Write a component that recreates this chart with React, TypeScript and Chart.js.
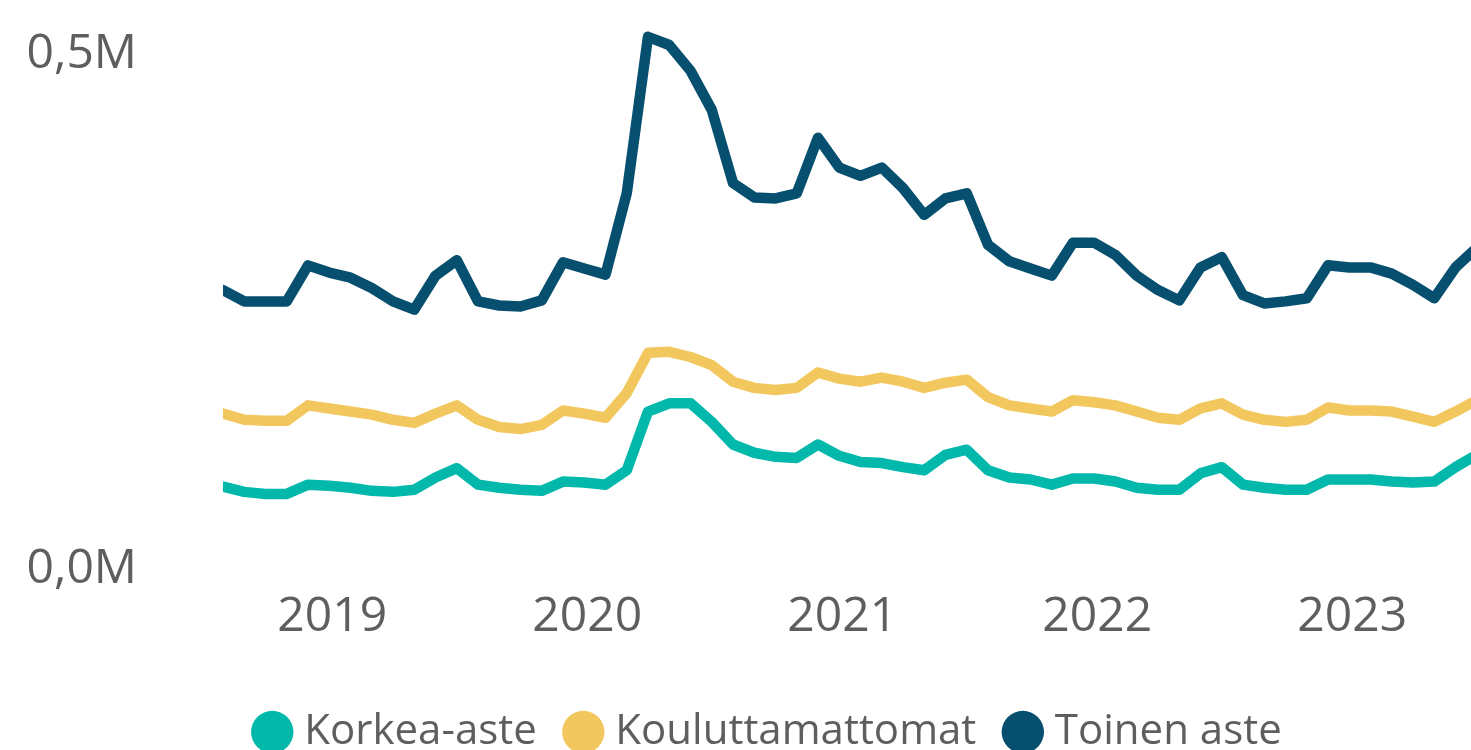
import React, { useEffect, useRef } from 'react';
import { Chart, registerables } from 'chart.js';

Chart.register(...registerables);

// Monthly categories (Aug 2018 .. Jul 2023)
const MONTHS = [
  '2018-08', '2018-09', '2018-10', '2018-11', '2018-12',
  '2019-01', '2019-02', '2019-03', '2019-04', '2019-05', '2019-06', '2019-07', '2019-08', '2019-09', '2019-10', '2019-11', '2019-12',
  '2020-01', '2020-02', '2020-03', '2020-04', '2020-05', '2020-06', '2020-07', '2020-08', '2020-09', '2020-10', '2020-11', '2020-12',
  '2021-01', '2021-02', '2021-03', '2021-04', '2021-05', '2021-06', '2021-07', '2021-08', '2021-09', '2021-10', '2021-11', '2021-12',
  '2022-01', '2022-02', '2022-03', '2022-04', '2022-05', '2022-06', '2022-07', '2022-08', '2022-09', '2022-10', '2022-11', '2022-12',
  '2023-01', '2023-02', '2023-03', '2023-04', '2023-05', '2023-06', '2023-07',
];

// Values in thousands
const KORKEA_ASTE = [
  77, 72, 70, 70, 79, 78, 76, 73, 72, 74,
  86, 95, 79, 76, 74, 73, 82, 81, 79, 93,
  150, 158, 158, 140, 118, 110, 106, 105, 118, 107,
  101, 100, 96, 93, 108, 113, 93, 86, 84, 79,
  85, 85, 82, 76, 74, 74, 90, 96, 79, 76,
  74, 74, 84, 84, 84, 82, 81, 82, 96, 108,
];
const KOULUTTAMATTOMAT = [
  148, 142, 141, 141, 156, 153, 150, 147, 142, 139,
  148, 156, 142, 135, 133, 137, 151, 148, 144, 168,
  207, 208, 203, 195, 179, 173, 171, 173, 188, 182,
  179, 183, 179, 173, 178, 181, 164, 156, 153, 150,
  161, 159, 156, 150, 144, 142, 153, 158, 147, 142,
  140, 142, 154, 151, 151, 150, 145, 140, 150, 161,
];
const TOINEN_ASTE = [
  268, 257, 257, 257, 292, 285, 280, 270, 257, 249,
  282, 297, 257, 253, 252, 258, 295, 289, 283, 362,
  514, 506, 481, 443, 372, 358, 357, 362, 416, 387,
  379, 387, 367, 341, 357, 362, 312, 296, 289, 282,
  314, 314, 302, 282, 268, 258, 290, 300, 263, 255,
  257, 260, 292, 290, 290, 284, 273, 260, 290, 309,
];

const SERIES_NAMES = ['Korkea-aste', 'Kouluttamattomat', 'Toinen aste'];
const SERIES_COLORS = ['#01B8AA', '#F2C75E', '#074F6E'];
const SERIES_DATA = [KORKEA_ASTE, KOULUTTAMATTOMAT, TOINEN_ASTE];

const YEAR_LABELS = ['2019', '2020', '2021', '2022', '2023'];
const YEAR_MONTHS = ['2019-01', '2020-01', '2021-01', '2022-01', '2023-01'];
const Y_TICKS = [0, 500];

// Layout
const CANVAS_W = 1543;
const CANVAS_H = 763;
const PLOT_LEFT = 223;
const MONTH_PX = 21.25;
const X_MAX = (CANVAS_W - PLOT_LEFT) / MONTH_PX;
const Y_MAX = 540;
const LEGEND_FONT = 42;
const LEGEND_PAD = 35.5;
const LEGEND_H = LEGEND_FONT + LEGEND_PAD + 10;
const X_AXIS_H = CANVAS_H - LEGEND_H - 566;
const FONT = "'Open Sans', sans-serif";
const TEXT_COLOR = '#605E5C';

export default function App() {
  const ref = useRef<HTMLCanvasElement | null>(null);

  useEffect(() => {
    if (!ref.current) return;
    const yearIdx = YEAR_MONTHS.map((m) => MONTHS.indexOf(m));
    const chart = new Chart(ref.current, {
      type: 'line',
      data: {
        datasets: SERIES_NAMES.map((name, s) => ({
          label: name,
          data: SERIES_DATA[s].map((v, i) => ({ x: i, y: v })),
          borderColor: SERIES_COLORS[s],
          backgroundColor: SERIES_COLORS[s],
          borderWidth: 10.5,
          pointRadius: 0,
          pointHoverRadius: 0,
          tension: 0,
          borderJoinStyle: 'round',
          borderCapStyle: 'round',
          fill: false,
        })),
      },
      options: {
        animation: false,
        responsive: false,
        maintainAspectRatio: false,
        events: [],
        layout: { padding: { top: 10, left: 0, right: 0, bottom: 0 } },
        plugins: {
          tooltip: { enabled: false },
          legend: {
            position: 'bottom',
            align: 'center',
            labels: {
              usePointStyle: true,
              pointStyle: 'circle',
              boxWidth: 22,
              boxHeight: 30,
              padding: LEGEND_PAD,
              color: TEXT_COLOR,
              font: { family: FONT, size: LEGEND_FONT },
              generateLabels: (c: any) =>
                (Chart.defaults.plugins.legend.labels.generateLabels as any)(c).map((it: any) => ({
                  ...it,
                  lineWidth: 0,
                  fillStyle: it.strokeStyle,
                })),
            },
          },
        },
        scales: {
          x: {
            type: 'linear',
            min: 0,
            max: X_MAX,
            grid: { display: false, drawTicks: false },
            border: { display: false },
            afterBuildTicks: (s: any) => {
              s.ticks = yearIdx.map((v) => ({ value: v }));
            },
            afterFit: (s: any) => {
              s.height = X_AXIS_H;
              s.paddingLeft = 0;
              s.paddingRight = 0;
            },
            ticks: {
              autoSkip: false,
              maxRotation: 0,
              padding: 23,
              labelOffset: 3,
              color: TEXT_COLOR,
              font: { family: FONT, size: 48 },
              callback: (v: any) => {
                const k = yearIdx.indexOf(Number(v));
                return k >= 0 ? YEAR_LABELS[k] : '';
              },
            },
          },
          y: {
            min: 0,
            max: Y_MAX,
            grid: { display: false, drawTicks: false },
            border: { display: false },
            afterBuildTicks: (s: any) => {
              s.ticks = Y_TICKS.map((v) => ({ value: v }));
            },
            afterFit: (s: any) => {
              s.width = PLOT_LEFT;
              s.paddingTop = 0;
              s.paddingBottom = 0;
            },
            ticks: {
              padding: 86,
              labelOffset: 3,
              color: TEXT_COLOR,
              font: { family: FONT, size: 48 },
              callback: (v: any) => (Number(v) / 1000).toFixed(1).replace('.', ',') + 'M',
            },
          },
        },
      } as any,
    });
    return () => chart.destroy();
  }, []);

  return (
    <div
      style={{
        position: 'fixed',
        left: 0,
        top: 0,
        width: 1471,
        height: 750,
        overflow: 'hidden',
        background: '#ffffff',
      }}
    >
      <canvas
        ref={ref}
        width={CANVAS_W}
        height={CANVAS_H}
        style={{ display: 'block', width: CANVAS_W, height: CANVAS_H }}
      />
    </div>
  );
}
